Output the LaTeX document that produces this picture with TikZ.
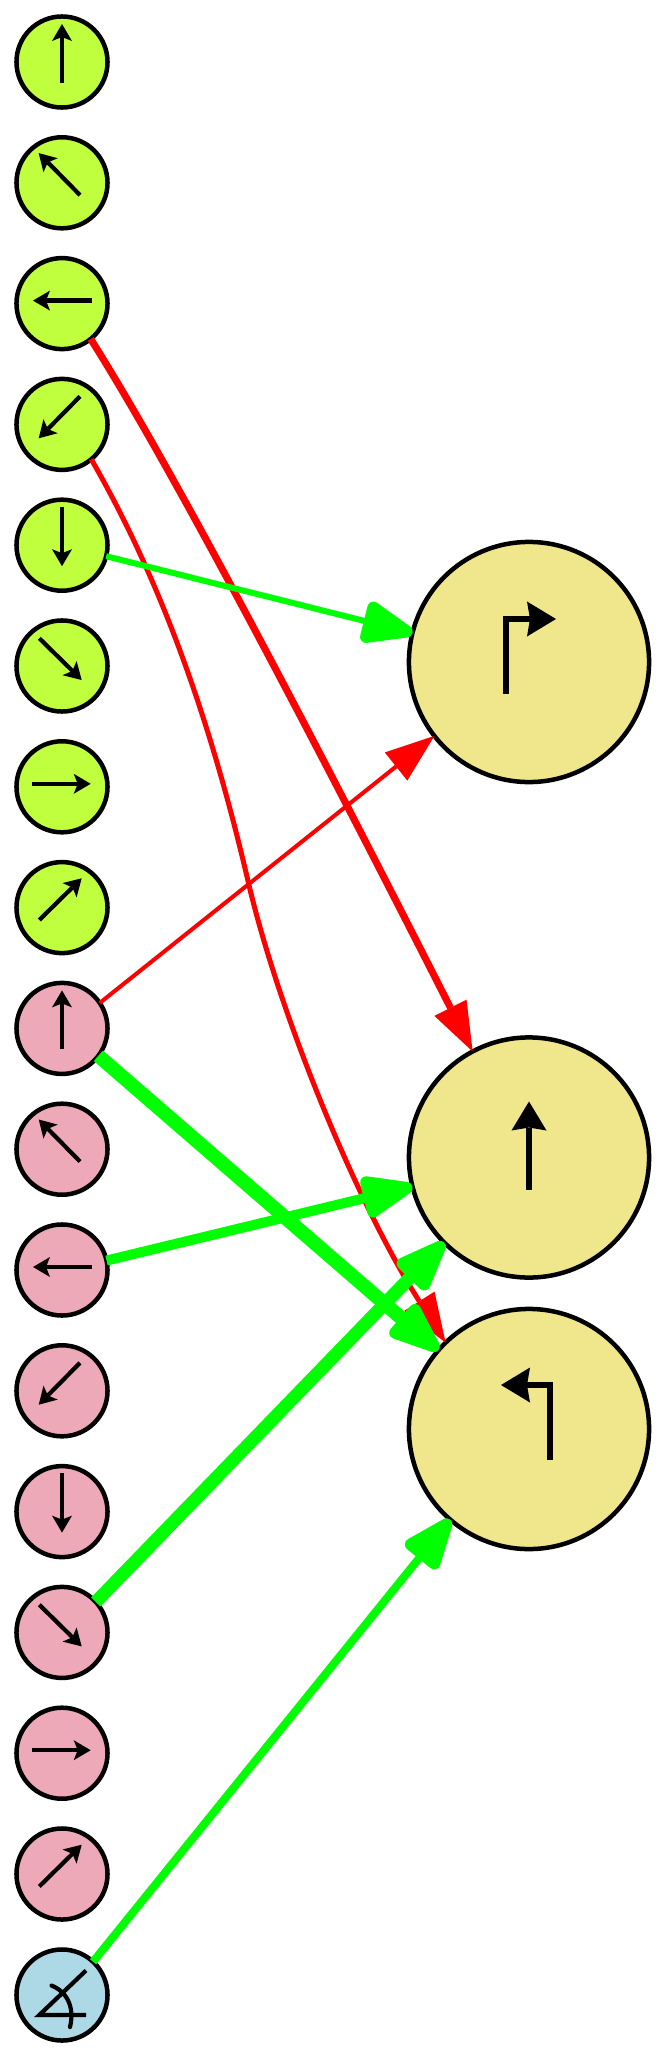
\documentclass[tikz,border=0pt]{standalone}
\usetikzlibrary{arrows.meta}
\definecolor{dotgreen}{HTML}{C0FF3E}
\definecolor{dotpink}{HTML}{EEA9B8}
\definecolor{dotblue}{HTML}{ADD8E6}
\definecolor{bigkhaki}{HTML}{F0E68C}
\tikzset{
  dot/.style={circle,draw=black,line width=.045cm,minimum size=.91cm,inner sep=0pt,outer sep=0pt},
  bigdot/.style={circle,draw=black,fill=bigkhaki,line width=.045cm,minimum size=2.4cm,inner sep=0pt,outer sep=0pt},
  sym/.style={line width=.042cm,black,-{Stealth[length=.17cm,width=.2cm,inset=.04cm,line width=0pt]}},
  bigsym/.style={line width=.06cm,black,miter limit=10,-{Stealth[length=.29cm,width=.35cm,inset=.03cm,line width=0pt]}},
  redline/.style={red,-{Triangle[length=.49cm,width=.36cm,line width=0pt]}},
  greenline/.style={green,-{Triangle[length=.62cm,width=.44cm,line width=.12cm,round]}},
}
\begin{document}
\begin{tikzpicture}[x=.01cm,y=-.01cm]
\useasboundingbox (0,0) rectangle (667,2058);
% input dots
\foreach \nm/\o/\c in {g/0/dotgreen,p/8/dotpink}{
  \foreach \i/\ax/\ay/\bx/\by in {0/0/20.7/0/-38,1/18/12.3/-23.3/-29.7,2/30/-3/-29/-3,3/18/-28/-23.3/13.9,
      4/0/-38.5/0/21,5/-22.7/-27.7/19.7/14,6/-30/-3/28.7/-3,7/-22.7/12.4/19.7/-29.3}{
    \node[dot,fill=\c] (\nm\i) at (62,{62+120.8*(\i+\o)}) {};
    \draw[sym] ([shift={(\ax,\ay)}]\nm\i.center) -- ([shift={(\bx,\by)}]\nm\i.center);
  }
}
\node[dot,fill=dotblue] (b0) at (62,1995) {};
\draw[line width=.042cm] ([shift={(24,-24.5)}]b0.center) -- ([shift={(-22.7,20)}]b0.center) -- ([shift={(24,20)}]b0.center);
\draw[line width=.042cm,line cap=round] ([shift={(-10.5,-9.5)}]b0.center) .. controls ([shift={(8,-2)}]b0.center) and ([shift={(12,16)}]b0.center) .. ([shift={(8,32)}]b0.center);
% output dots
\node[bigdot] (k1) at (529,662) {};
\node[bigdot] (k2) at (529,1157.5) {};
\node[bigdot] (k3) at (529,1429) {};
\draw[bigsym] ([shift={(-23,32)}]k1.center) -- ([shift={(-23,-43)}]k1.center) -- ([shift={(27,-43)}]k1.center);
\draw[bigsym] ([shift={(0,32)}]k2.center) -- ([shift={(0,-56)}]k2.center);
\draw[bigsym] ([shift={(21,31)}]k3.center) -- ([shift={(21,-44)}]k3.center) -- ([shift={(-28,-44)}]k3.center);
% red connectors
\draw[redline,line width=.07cm] (g2.-51) .. controls (180,480) and (340,790) .. (k2.118);
\draw[redline,line width=.05cm] (g3.-50) .. controls (155,570) and (207,705) .. (248,881)
  .. controls (278,1010) and (355,1200) .. (k3.134);
\draw[redline,line width=.04cm] (p0.34) -- (k1.218);
% green connectors
\draw[greenline,line width=.06cm] (g4.-14) -- (k1.166);
\draw[greenline,line width=.1cm] (p2.12) -- (k2.194);
\draw[greenline,line width=.13cm] (p5.42) -- (k2.225);
\draw[greenline,line width=.14cm] (p0.-37) -- (k3.139);
\draw[greenline,line width=.08cm] (b0.47) -- (k3.229);
\end{tikzpicture}
\end{document}
